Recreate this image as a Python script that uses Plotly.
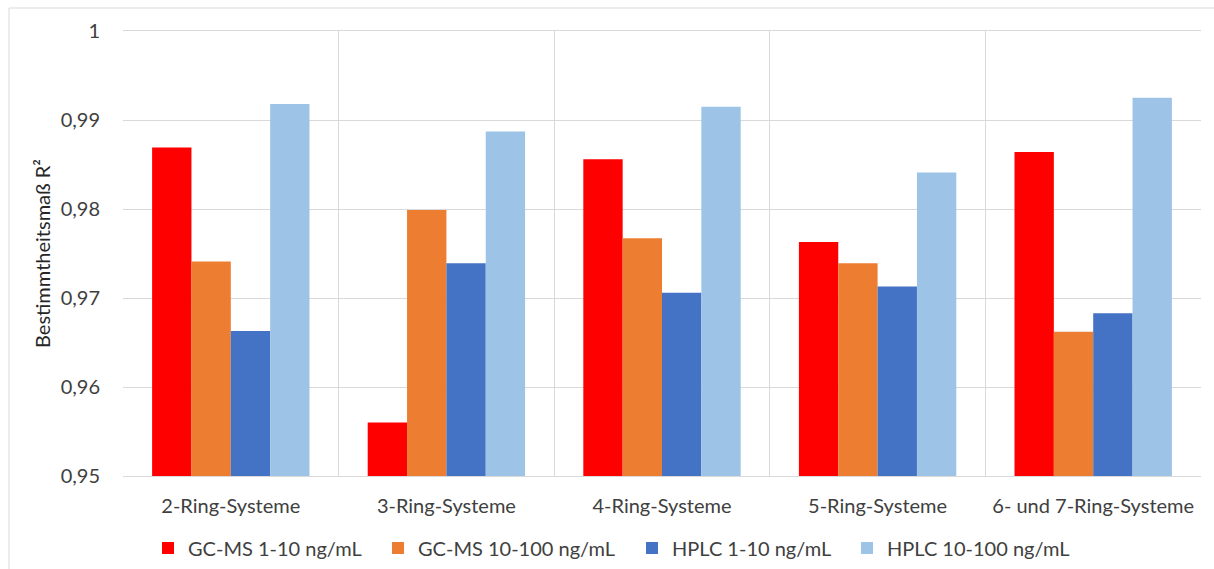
import plotly.graph_objects as go

categories = ["2-Ring-Systeme", "3-Ring-Systeme", "4-Ring-Systeme", "5-Ring-Systeme", "6- und 7-Ring-Systeme"]
gcms_1_10 = [0.9869, 0.9560, 0.9856, 0.9763, 0.9864]
gcms_10_100 = [0.9741, 0.9799, 0.9767, 0.9739, 0.9662]
hplc_1_10 = [0.9663, 0.9739, 0.9706, 0.9713, 0.9683]
hplc_10_100 = [0.9918, 0.9887, 0.9915, 0.9841, 0.9925]
series_names = ["GC-MS 1-10 ng/mL", "GC-MS 10-100 ng/mL", "HPLC 1-10 ng/mL", "HPLC 10-100 ng/mL"]
colors = ["#FF0000", "#ED7D31", "#4472C4", "#9DC3E6"]
y_ticks = [0.95, 0.96, 0.97, 0.98, 0.99, 1.0]
y_tick_labels = ["0,95", "0,96", "0,97", "0,98", "0,99", "1"]

FONT = "Lato"
W, H = 1214, 569
L, R, T, B = 123, 13, 31, 93

pw, ph = W - L - R, H - T - B
def px_x(p): return (p - L) / pw
def px_y(p): return (H - B - p) / ph

legend_ids = ["legend", "legend2", "legend3", "legend4"]
legend_left_px = [148, 378, 632, 847]

fig = go.Figure()
for name, vals, col, lid in zip(series_names, [gcms_1_10, gcms_10_100, hplc_1_10, hplc_10_100], colors, legend_ids):
    fig.add_trace(go.Bar(x=categories, y=vals, name=name, legend=lid,
                         marker=dict(color=col, line=dict(width=0))))

legend_layout = {}
for lid, lx in zip(legend_ids, legend_left_px):
    legend_layout[lid] = dict(orientation="h", x=px_x(lx), xanchor="left", y=px_y(548), yanchor="middle",
                              font=dict(family=FONT, size=20, color="#404040"), itemwidth=30,
                              bgcolor="rgba(0,0,0,0)")

fig.update_layout(
    width=W, height=H,
    margin=dict(l=L, r=R, t=T, b=B, pad=0, autoexpand=False),
    barmode="group", bargap=0.27, bargroupgap=0,
    plot_bgcolor="white", paper_bgcolor="white",
    font=dict(family=FONT, size=20, color="#404040"),
    showlegend=True,
    **legend_layout,
    xaxis=dict(type="category", tickson="boundaries", showgrid=True, gridcolor="#D9D9D9", gridwidth=1,
               ticks="", showline=True, linecolor="#D9D9D9", mirror=True,
               tickfont=dict(family=FONT, size=20, color="#404040"), ticklabelstandoff=12),
    yaxis=dict(range=[0.95, 1.0], tickvals=y_ticks, ticktext=y_tick_labels, showgrid=True,
               gridcolor="#D9D9D9", gridwidth=1, zeroline=False, showline=False, ticks="",
               ticklabelstandoff=22, tickfont=dict(family=FONT, size=20, color="#404040"),
               title=dict(text="Bestimmtheitsmaß R²", standoff=4,
                          font=dict(family=FONT, size=20, color="#262626"))),
)
fig.add_shape(type="rect", xref="paper", yref="paper", x0=px_x(9), x1=px_x(1240), y0=px_y(8), y1=px_y(600),
              line=dict(color="#D9D9D9", width=1), fillcolor="rgba(0,0,0,0)", layer="below")
fig.write_html("out.html")
